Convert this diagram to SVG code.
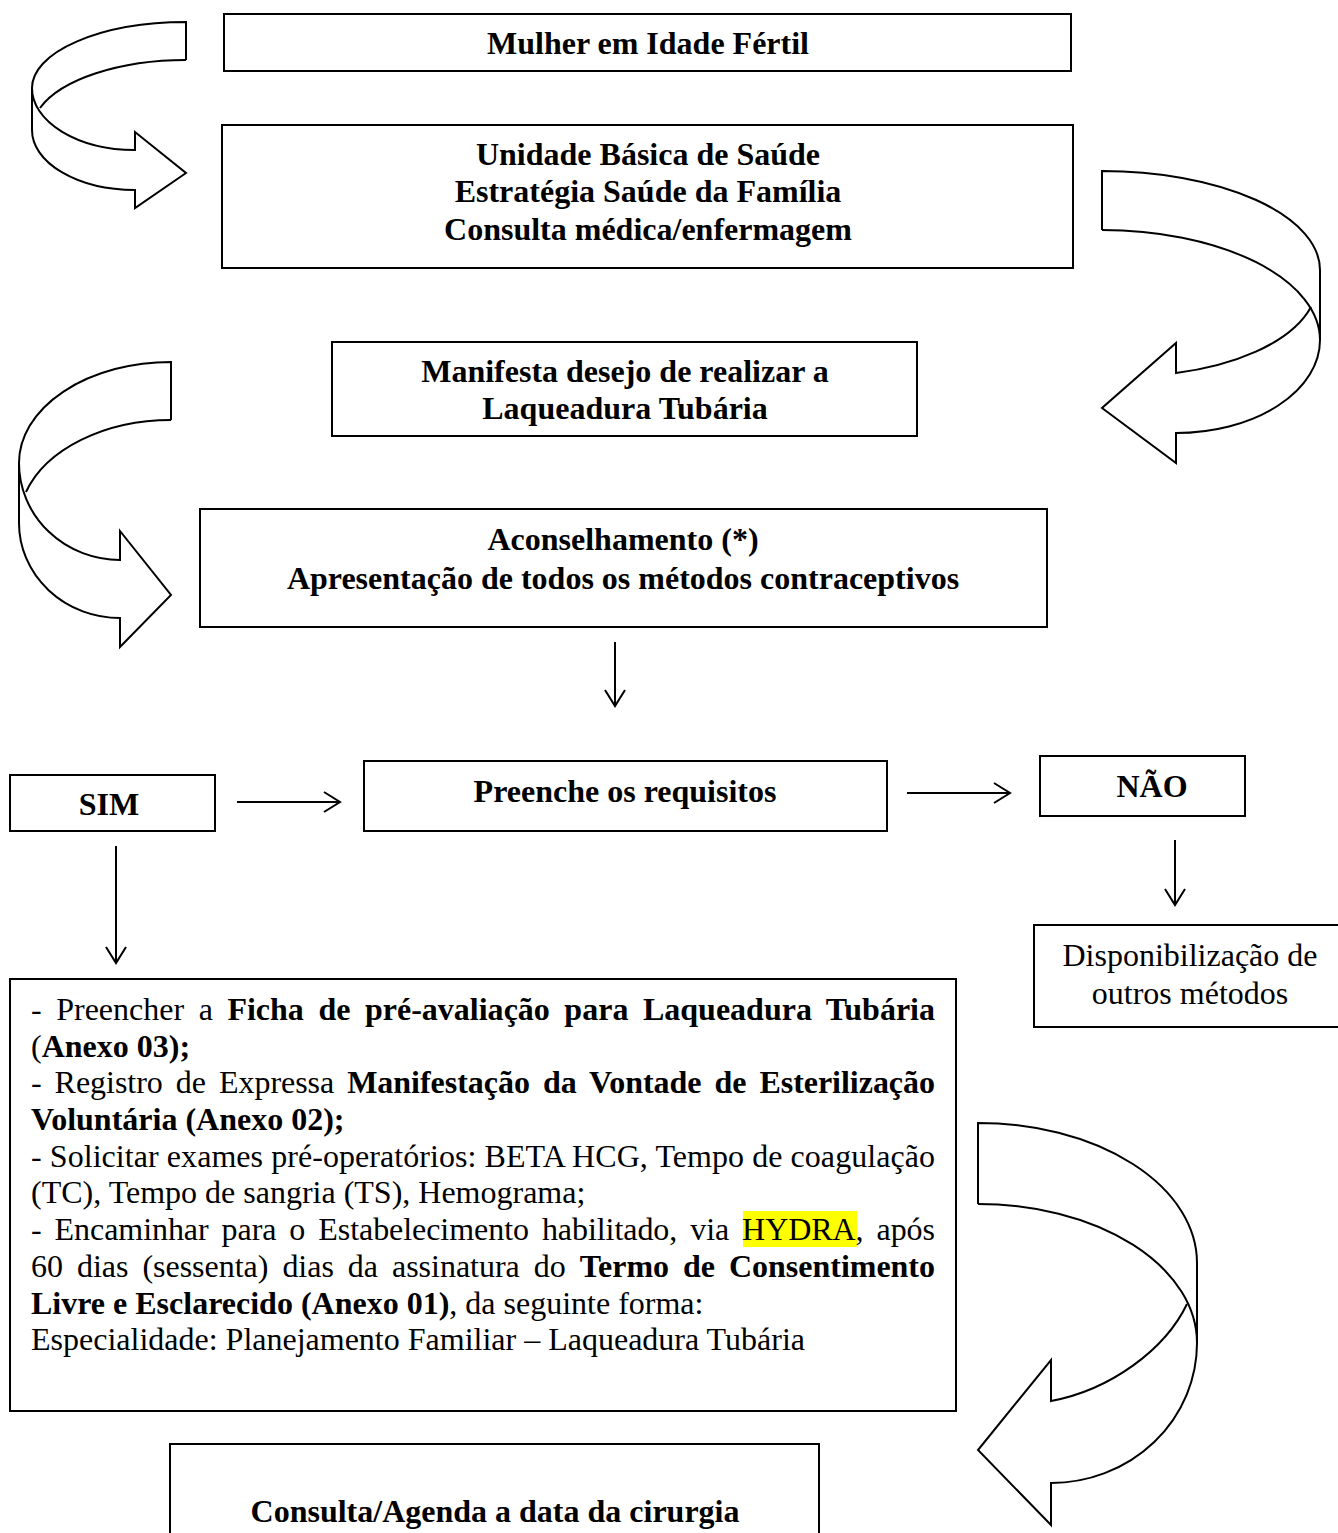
<svg xmlns="http://www.w3.org/2000/svg" width="1338" height="1533" viewBox="0 0 1338 1533">
<style>
  .box { fill: #ffffff; stroke: #000000; stroke-width: 2; }
  .h { font-family: "Liberation Serif", "Times New Roman", serif; font-weight: bold; font-size: 32px; fill: #000; text-anchor: middle; }
  .r { font-family: "Liberation Serif", "Times New Roman", serif; font-size: 32px; fill: #000; }
  .rc { font-family: "Liberation Serif", "Times New Roman", serif; font-size: 32px; fill: #000; text-anchor: middle; }
  .b { font-weight: bold; }
  .conn { fill: none; stroke: #000; stroke-width: 2; }
  .curve { fill: none; stroke: #000; stroke-width: 2; stroke-linejoin: miter; }
</style>
<defs>
  <marker id="open" viewBox="-20 -12 22 24" refX="0" refY="0" markerWidth="22" markerHeight="24" markerUnits="userSpaceOnUse" orient="auto">
    <path d="M-16,-10 L0,0 L-16,10" fill="none" stroke="#000" stroke-width="2"/>
  </marker>
</defs>
<rect width="1338" height="1533" fill="#ffffff"/>

<g id="connectors">
  <line class="conn" x1="615" y1="642" x2="615" y2="706" marker-end="url(#open)"/>
  <line class="conn" x1="237" y1="802" x2="340" y2="802" marker-end="url(#open)"/>
  <line class="conn" x1="907" y1="793" x2="1010" y2="793" marker-end="url(#open)"/>
  <line class="conn" x1="1175" y1="840" x2="1175" y2="905" marker-end="url(#open)"/>
  <line class="conn" x1="116" y1="846" x2="116" y2="963" marker-end="url(#open)"/>

  <g id="curved-arrow-1">
    <path class="curve" d="M186,60 L186,22 A154,66 0 0 0 32,88 L32,130 A103,60 0 0 0 135,190 L135,208 L186,173 L135,132 L135,150 A103,62 0 0 1 32,88"/>
    <path class="curve" d="M186,60 A154,70 0 0 0 40,108"/>
  </g>
  <g id="curved-arrow-2">
    <path class="curve" d="M1102,230 L1102,171 A218,99 0 0 1 1320,270 L1320,340 A144,93 0 0 1 1176,433 L1176,463 L1102,408 L1176,343 L1176,373 C1230,366 1290,345 1311,307"/>
    <path class="curve" d="M1102,230 A218,110 0 0 1 1320,340"/>
  </g>
  <g id="curved-arrow-3">
    <path class="curve" d="M171,420 L171,362 A152,101 0 0 0 19,463 L19,523 A101,95 0 0 0 120,618 L120,647 L171,595 L120,531 L120,560 A101,97 0 0 1 19,463"/>
    <path class="curve" d="M171,420 A152,103 0 0 0 26,492"/>
  </g>
  <g id="curved-arrow-4">
    <path class="curve" d="M978,1204 L978,1123 A219,140 0 0 1 1197,1263 L1197,1343 A146,140 0 0 1 1051,1483 L1051,1525 L978,1450 L1051,1360 L1051,1401 C1110,1390 1165,1350 1187,1304"/>
    <path class="curve" d="M978,1204 A219,139 0 0 1 1197,1343"/>
  </g>
</g>

<g id="node-mulher">
  <rect class="box" x="224" y="14" width="847" height="57"/>
  <text class="h" x="648" y="54">Mulher em Idade Fértil</text>
</g>

<g id="node-ubs">
  <rect class="box" x="222" y="125" width="851" height="143"/>
  <text class="h" x="648" y="165">Unidade Básica de Saúde</text>
  <text class="h" x="648" y="202">Estratégia Saúde da Família</text>
  <text class="h" x="648" y="240">Consulta médica/enfermagem</text>
</g>

<g id="node-manifesta">
  <rect class="box" x="332" y="342" width="585" height="94"/>
  <text class="h" x="625" y="382">Manifesta desejo de realizar a</text>
  <text class="h" x="625" y="419">Laqueadura Tubária</text>
</g>

<g id="node-aconselhamento">
  <rect class="box" x="200" y="509" width="847" height="118"/>
  <text class="h" x="623" y="550">Aconselhamento (*)</text>
  <text class="h" x="623" y="589">Apresentação de todos os métodos contraceptivos</text>
</g>

<g id="node-sim">
  <rect class="box" x="10" y="775" width="205" height="56"/>
  <text class="h" x="109" y="815">SIM</text>
</g>

<g id="node-preenche">
  <rect class="box" x="364" y="761" width="523" height="70"/>
  <text class="h" x="625" y="802">Preenche os requisitos</text>
</g>

<g id="node-nao">
  <rect class="box" x="1040" y="756" width="205" height="60"/>
  <text class="h" x="1152" y="797">NÃO</text>
</g>

<g id="node-disponibilizacao">
  <rect class="box" x="1034" y="925" width="312" height="102"/>
  <text class="rc" x="1190" y="966">Disponibilização de</text>
  <text class="rc" x="1190" y="1004">outros métodos</text>
</g>

<g id="node-requisitos-sim">
  <rect class="box" x="10" y="979" width="946" height="432"/>
  <rect x="743" y="1211" width="114" height="36" fill="#ffff00"/>
  <text class="r" x="31" y="1020" textLength="904" lengthAdjust="spacing" word-spacing="6.5">- Preencher a <tspan class="b">Ficha de pré-avaliação para Laqueadura Tubária</tspan></text>
  <text class="r" x="31" y="1057">(<tspan class="b">Anexo 03);</tspan></text>
  <text class="r" x="31" y="1093" textLength="904" lengthAdjust="spacing" word-spacing="5">- Registro de Expressa <tspan class="b">Manifestação da Vontade de Esterilização</tspan></text>
  <text class="r b" x="31" y="1130">Voluntária (Anexo 02);</text>
  <text class="r" x="31" y="1167" textLength="904" lengthAdjust="spacing">- Solicitar exames pré-operatórios: BETA HCG, Tempo de coagulação</text>
  <text class="r" x="31" y="1203">(TC), Tempo de sangria (TS), Hemograma;</text>
  <text class="r" x="31" y="1240" textLength="904" lengthAdjust="spacing" word-spacing="5">- Encaminhar para o Estabelecimento habilitado, via HYDRA, após</text>
  <text class="r" x="31" y="1277" textLength="904" lengthAdjust="spacing" word-spacing="6">60 dias (sessenta) dias da assinatura do <tspan class="b">Termo de Consentimento</tspan></text>
  <text class="r" x="31" y="1314"><tspan class="b">Livre e Esclarecido (Anexo 01)</tspan>, da seguinte forma:</text>
  <text class="r" x="31" y="1350">Especialidade: Planejamento Familiar – Laqueadura Tubária</text>
</g>

<g id="node-consulta">
  <rect class="box" x="170" y="1444" width="649" height="100"/>
  <text class="h" x="495" y="1522">Consulta/Agenda a data da cirurgia</text>
</g>
</svg>
